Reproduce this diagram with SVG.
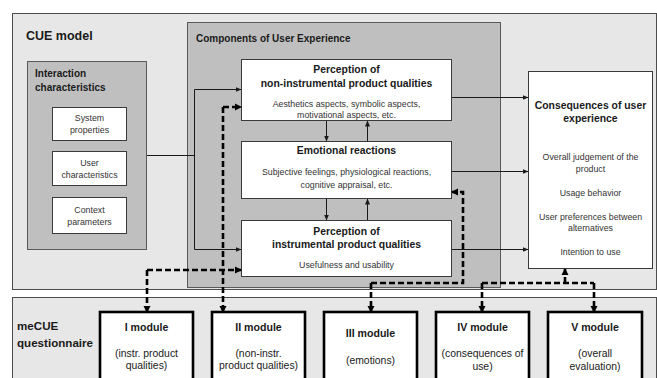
<svg xmlns="http://www.w3.org/2000/svg" width="657" height="378" viewBox="0 0 657 378">
  <style>
    .panel { fill: #e7e7e7; stroke: #4d4d4d; stroke-width: 1; }
    .grey { fill: #bfbfbf; stroke: #5a5a5a; stroke-width: 1; }
    .box { fill: #ffffff; stroke: #3a3a3a; stroke-width: 1; }
    .mod { fill: #ffffff; stroke: #000000; stroke-width: 2.6; }
    text { font-family: "Liberation Sans", Arial, sans-serif; fill: #1a1a1a; }
    .h1 { font-size: 12.5px; font-weight: bold; }
    .h1s { font-size: 11.6px; font-weight: bold; }
    .h2 { font-size: 10px; font-weight: bold; }
    .t { font-size: 10.4px; font-weight: bold; text-anchor: middle; }
    .s { font-size: 8.8px; text-anchor: middle; fill: #333; }
    .mt { font-size: 10.6px; font-weight: bold; text-anchor: middle; }
    .ms { font-size: 10.4px; text-anchor: middle; }
    .solid { fill: none; stroke: #1a1a1a; stroke-width: 1; }
    .dash { fill: none; stroke: #000; stroke-width: 2.6; stroke-dasharray: 6 3; }
  </style>
  <defs>
    <marker id="arr" markerUnits="userSpaceOnUse" markerWidth="6" markerHeight="6" refX="5.5" refY="3" orient="auto">
      <path d="M0,0.5 L6,3 L0,5.5 z" fill="#1a1a1a"/>
    </marker>
    <marker id="arrB" markerUnits="userSpaceOnUse" markerWidth="8" markerHeight="8" refX="6" refY="4" orient="auto">
      <path d="M0,0.5 L7,4 L0,7.5 z" fill="#000"/>
    </marker>
  </defs>

  <!-- model panel -->
  <g id="cue-model">
    <rect class="panel" x="12.5" y="13.5" width="644" height="276"/>
    <text class="h1" x="26" y="40">CUE model</text>
  </g>

  <!-- questionnaire panel -->
  <g id="mecue">
    <rect class="panel" x="12.5" y="297.5" width="644" height="90"/>
    <text class="h1s" x="17" y="330">meCUE</text>
    <text class="h1s" x="17" y="347">questionnaire</text>
  </g>

  <!-- components panel -->
  <g id="components">
    <rect class="grey" x="187.5" y="22.5" width="313" height="265"/>
    <text class="h2" x="196" y="42">Components of User Experience</text>
  </g>

  <!-- interaction characteristics -->
  <g id="interaction">
    <rect class="grey" x="27.5" y="61.5" width="119" height="188"/>
    <text class="h2" x="35" y="77">Interaction</text>
    <text class="h2" x="35" y="91">characteristics</text>
  </g>
  <g id="system-properties">
    <rect class="box" x="52.5" y="107.5" width="74" height="33"/>
    <text class="s" x="89.5" y="121">System</text>
    <text class="s" x="89.5" y="133">properties</text>
  </g>
  <g id="user-characteristics">
    <rect class="box" x="52.5" y="151.5" width="74" height="34"/>
    <text class="s" x="89.5" y="166">User</text>
    <text class="s" x="89.5" y="178">characteristics</text>
  </g>
  <g id="context-parameters">
    <rect class="box" x="52.5" y="197.5" width="74" height="36"/>
    <text class="s" x="89.5" y="213">Context</text>
    <text class="s" x="89.5" y="225">parameters</text>
  </g>

  <!-- components -->
  <g id="non-instrumental">
    <rect class="box" x="241.5" y="59.5" width="210" height="61"/>
    <text class="t" x="346.5" y="73">Perception of</text>
    <text class="t" x="346.5" y="87">non-instrumental product qualities</text>
    <text class="s" x="346.5" y="107">Aesthetics aspects, symbolic aspects,</text>
    <text class="s" x="346.5" y="118">motivational aspects, etc.</text>
  </g>
  <g id="emotions">
    <rect class="box" x="241.5" y="141.5" width="210" height="57"/>
    <text class="t" x="346.5" y="154">Emotional reactions</text>
    <text class="s" x="346.5" y="175">Subjective feelings, physiological reactions,</text>
    <text class="s" x="346.5" y="188">cognitive appraisal, etc.</text>
  </g>
  <g id="instrumental">
    <rect class="box" x="241.5" y="220.5" width="210" height="56"/>
    <text class="t" x="346.5" y="235">Perception of</text>
    <text class="t" x="346.5" y="248">instrumental product qualities</text>
    <text class="s" x="346.5" y="268">Usefulness and usability</text>
  </g>

  <!-- consequences -->
  <g id="consequences">
    <rect class="box" x="528.5" y="71.5" width="124" height="197"/>
    <text class="t" x="590.5" y="109">Consequences of user</text>
    <text class="t" x="590.5" y="122">experience</text>
    <text class="s" x="590.5" y="160">Overall judgement of the</text>
    <text class="s" x="590.5" y="172">product</text>
    <text class="s" x="590.5" y="196">Usage behavior</text>
    <text class="s" x="590.5" y="220">User preferences between</text>
    <text class="s" x="590.5" y="231">alternatives</text>
    <text class="s" x="590.5" y="255">Intention to use</text>
  </g>

  <!-- questionnaire modules -->
  <g id="module-1">
    <rect class="mod" x="100" y="312" width="93" height="80"/>
    <text class="mt" x="146.5" y="331">I module</text>
    <text class="ms" x="146.5" y="357">(instr. product</text>
    <text class="ms" x="146.5" y="369">qualities)</text>
  </g>
  <g id="module-2">
    <rect class="mod" x="212" y="312" width="93" height="80"/>
    <text class="mt" x="258.5" y="331">II module</text>
    <text class="ms" x="258.5" y="357">(non-instr.</text>
    <text class="ms" x="258.5" y="369">product qualities)</text>
  </g>
  <g id="module-3">
    <rect class="mod" x="324" y="312" width="93" height="80"/>
    <text class="mt" x="370.5" y="337">III module</text>
    <text class="ms" x="370.5" y="364">(emotions)</text>
  </g>
  <g id="module-4">
    <rect class="mod" x="436" y="312" width="93" height="80"/>
    <text class="mt" x="482.5" y="331">IV module</text>
    <text class="ms" x="482.5" y="357">(consequences of</text>
    <text class="ms" x="482.5" y="370">use)</text>
  </g>
  <g id="module-5">
    <rect class="mod" x="548" y="312" width="94" height="80"/>
    <text class="mt" x="595" y="331">V module</text>
    <text class="ms" x="595" y="357">(overall</text>
    <text class="ms" x="595" y="370">evaluation)</text>
  </g>

  <!-- connectors -->
  <g id="connectors">
    <!-- interaction characteristics feed both perceptions -->
    <path class="solid" d="M147,155.5 H194.5"/>
    <path class="solid" d="M194.5,249.5 V89.5 H241" marker-end="url(#arr)"/>
    <path class="solid" d="M194.5,249.5 H241" marker-end="url(#arr)"/>
    <!-- between components -->
    <path class="solid" d="M326.5,121 V141" marker-end="url(#arr)"/>
    <path class="solid" d="M367.5,141 V121" marker-end="url(#arr)"/>
    <path class="solid" d="M326.5,199 V220" marker-end="url(#arr)"/>
    <path class="solid" d="M367.5,220 V199" marker-end="url(#arr)"/>
    <!-- components to consequences -->
    <path class="solid" d="M452,97.5 H528" marker-end="url(#arr)"/>
    <path class="solid" d="M452,171.5 H528" marker-end="url(#arr)"/>
    <path class="solid" d="M452,249.5 H528" marker-end="url(#arr)"/>

    <!-- module I -->
    <path class="dash" d="M147,270 H241" marker-end="url(#arrB)"/>
    <path class="dash" d="M147,270 V312" marker-end="url(#arrB)"/>
    <!-- module II -->
    <path class="dash" d="M223,107 H241" marker-end="url(#arrB)"/>
    <path class="dash" d="M223,107 V312" marker-end="url(#arrB)"/>
    <!-- module III -->
    <path class="dash" d="M371,283 H463 V192 H452" marker-end="url(#arrB)"/>
    <path class="dash" d="M371,283 V312" marker-end="url(#arrB)"/>
    <!-- modules IV and V -->
    <path class="dash" d="M482,283 H594"/>
    <path class="dash" d="M565,283 V269" marker-end="url(#arrB)"/>
    <path class="dash" d="M482,283 V312" marker-end="url(#arrB)"/>
    <path class="dash" d="M594,283 V312" marker-end="url(#arrB)"/>
  </g>
</svg>
